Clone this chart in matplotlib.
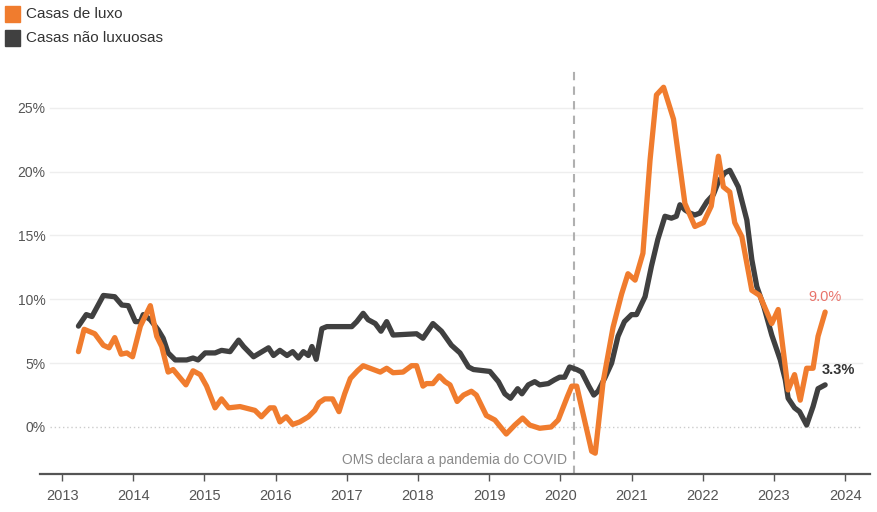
import matplotlib.pyplot as plt
from matplotlib.patches import Rectangle

# Dados (ano decimal, variação anual %)
lux_datas = [2013.23, 2013.31, 2013.46, 2013.58, 2013.66, 2013.74, 2013.83, 2013.91, 2013.99,
             2014.10, 2014.24, 2014.33, 2014.40, 2014.49, 2014.56, 2014.74, 2014.84, 2014.94,
             2015.03, 2015.15, 2015.24, 2015.34, 2015.50, 2015.71, 2015.80, 2015.92, 2015.98,
             2016.06, 2016.15, 2016.24, 2016.34, 2016.46, 2016.55, 2016.61, 2016.69, 2016.80,
             2016.89, 2016.97, 2017.05, 2017.15, 2017.23, 2017.47, 2017.56, 2017.65, 2017.79,
             2017.91, 2017.98, 2018.07, 2018.12, 2018.21, 2018.30, 2018.38, 2018.45, 2018.55,
             2018.64, 2018.75, 2018.82, 2018.96, 2019.08, 2019.24, 2019.36, 2019.47, 2019.57,
             2019.71, 2019.87, 2019.97, 2020.10, 2020.16, 2020.23, 2020.44, 2020.49, 2020.60,
             2020.74, 2020.86, 2020.95, 2021.05, 2021.16, 2021.26, 2021.35, 2021.45, 2021.59,
             2021.75, 2021.89, 2022.01, 2022.12, 2022.22, 2022.29, 2022.38, 2022.45, 2022.55,
             2022.69, 2022.80, 2022.97, 2023.06, 2023.20, 2023.29, 2023.37, 2023.46, 2023.55,
             2023.62, 2023.72]
lux_valores = [5.9, 7.65, 7.3, 6.4, 6.2, 7.0, 5.7, 5.8, 5.5,
               7.9, 9.5, 7.1, 6.3, 4.3, 4.5, 3.3, 4.4, 4.1,
               3.2, 1.5, 2.2, 1.5, 1.6, 1.3, 0.8, 1.5, 1.5,
               0.4, 0.8, 0.2, 0.4, 0.8, 1.3, 1.9, 2.2, 2.2,
               1.2, 2.6, 3.8, 4.4, 4.8, 4.3, 4.6, 4.25, 4.3,
               4.8, 4.8, 3.2, 3.4, 3.4, 4.0, 3.55, 3.3, 2.0,
               2.5, 2.8, 2.5, 0.9, 0.55, -0.55, 0.15, 0.7, 0.15,
               -0.1, 0.0, 0.55, 2.4, 3.2, 3.2, -1.9, -2.05, 3.5,
               7.8, 10.4, 12.0, 11.5, 13.6, 20.9, 26.0, 26.6, 24.1,
               17.5, 15.7, 16.0, 17.3, 21.2, 18.8, 18.4, 16.0, 14.9,
               10.7, 10.3, 8.1, 9.2, 2.9, 4.1, 2.1, 4.6, 4.6,
               7.1, 9.0]

nao_datas = [2013.23, 2013.34, 2013.42, 2013.58, 2013.74, 2013.84, 2013.93, 2014.03, 2014.10,
             2014.14, 2014.24, 2014.35, 2014.42, 2014.49, 2014.59, 2014.75, 2014.84, 2014.91,
             2015.01, 2015.15, 2015.24, 2015.36, 2015.48, 2015.55, 2015.69, 2015.78, 2015.90,
             2015.97, 2016.06, 2016.16, 2016.24, 2016.32, 2016.39, 2016.46, 2016.51, 2016.57,
             2016.65, 2016.72, 2017.07, 2017.14, 2017.23, 2017.30, 2017.40, 2017.48, 2017.56,
             2017.65, 2017.98, 2018.07, 2018.21, 2018.33, 2018.47, 2018.59, 2018.71, 2018.78,
             2019.01, 2019.13, 2019.22, 2019.30, 2019.40, 2019.46, 2019.55, 2019.64, 2019.71,
             2019.83, 2019.92, 2019.99, 2020.06, 2020.13, 2020.23, 2020.30, 2020.40, 2020.47,
             2020.53, 2020.63, 2020.72, 2020.81, 2020.90, 2021.00, 2021.07, 2021.19, 2021.28,
             2021.37, 2021.47, 2021.56, 2021.63, 2021.68, 2021.75, 2021.82, 2021.89, 2021.96,
             2022.06, 2022.15, 2022.22, 2022.31, 2022.38, 2022.50, 2022.62, 2022.69, 2022.76,
             2022.86, 2022.97, 2023.09, 2023.16, 2023.20, 2023.29, 2023.36, 2023.46, 2023.55,
             2023.62, 2023.72]
nao_valores = [7.9, 8.8, 8.65, 10.3, 10.2, 9.55, 9.5, 8.25, 8.25,
               8.8, 8.4, 7.6, 6.95, 5.8, 5.25, 5.25, 5.4, 5.25,
               5.8, 5.8, 6.0, 5.9, 6.8, 6.3, 5.5, 5.8, 6.2,
               5.6, 6.0, 5.6, 5.9, 5.4, 5.9, 5.6, 6.3, 5.3,
               7.7, 7.86, 7.86, 8.25, 8.9, 8.4, 8.1, 7.5, 8.25,
               7.2, 7.3, 6.95, 8.1, 7.5, 6.4, 5.8, 4.7, 4.5,
               4.35, 3.55, 2.6, 2.25, 3.0, 2.6, 3.3, 3.55, 3.3,
               3.4, 3.7, 3.9, 3.9, 4.7, 4.5, 4.3, 3.2, 2.5,
               2.8, 3.9, 5.0, 7.1, 8.25, 8.8, 8.8, 10.2, 12.6,
               14.7, 16.5, 16.35, 16.5, 17.4, 17.0, 16.75, 16.6, 16.75,
               17.65, 18.2, 19.2, 19.9, 20.1, 18.8, 16.2, 13.1, 11.0,
               9.4, 7.2, 5.25, 3.7, 2.25, 1.5, 1.2, 0.15, 1.6,
               3.0, 3.3]

anos = list(range(2013, 2025))
y_ticks = [0, 5, 10, 15, 20, 25]
y_labels = ["0%", "5%", "10%", "15%", "20%", "25%"]
data_covid = 2020.19

laranja = "#F07C2E"
escuro = "#404040"
cinza = "#555555"

plt.rcParams['font.family'] = ['Liberation Sans', 'DejaVu Sans']

fig = plt.figure(figsize=(8.77, 5.12), dpi=100)
ax = fig.add_axes([40 / 877, 1 - 474 / 512, 830 / 877, 411 / 512])

# linhas de grade
for v in y_ticks:
    if v == 0:
        ax.axhline(v, xmin=0.012, xmax=0.99, color="#cccccc", lw=1, ls=(0, (1, 2)), zorder=1)
    else:
        ax.axhline(v, xmin=0.012, xmax=0.99, color="#eeeeee", lw=1, zorder=1)

ax.plot(nao_datas, nao_valores, color=escuro, lw=3.8, solid_joinstyle="round",
        solid_capstyle="round", zorder=3)
ax.plot(lux_datas, lux_valores, color=laranja, lw=3.8, solid_joinstyle="round",
        solid_capstyle="round", zorder=4)

# linha do COVID
ax.axvline(data_covid, ymin=0, ymax=0.99, color="#b0b0b0", lw=1.5, ls=(0, (4, 3)), zorder=2)
ax.text(data_covid - 0.09, -2.6, "OMS declara a pandemia do COVID", ha="right", va="center",
        fontsize=10, color="#8a8a8a")

# rótulos finais
ax.text(lux_datas[-1], lux_valores[-1] + 0.6, f"{lux_valores[-1]:.1f}%", ha="center",
        va="bottom", fontsize=10.5, color="#E8736A")
ax.text(nao_datas[-1] - 0.05, nao_valores[-1] + 0.6, f"{nao_valores[-1]:.1f}%", ha="left",
        va="bottom", fontsize=10.5, color="#333333", fontweight="bold")

ax.set_xlim(2012.69, 2024.35)
ax.set_ylim(-3.68, 28.5)
ax.set_xticks(anos)
ax.set_xticklabels([str(a) for a in anos])
ax.set_yticks(y_ticks)
ax.set_yticklabels(y_labels)
ax.tick_params(axis="y", length=0, pad=-4, labelsize=10, labelcolor=cinza)
ax.tick_params(axis="x", length=5, width=1, color="#555555", pad=6, labelsize=10.5,
               labelcolor=cinza)

for s in ["top", "right", "left"]:
    ax.spines[s].set_visible(False)
ax.spines["bottom"].set_color("#555555")
ax.spines["bottom"].set_linewidth(1.6)

# legenda
fig.patches.append(Rectangle((5 / 877, 1 - 22 / 512), 15 / 877, 16 / 512,
                             transform=fig.transFigure, color=laranja))
fig.patches.append(Rectangle((5 / 877, 1 - 46 / 512), 15 / 877, 16 / 512,
                             transform=fig.transFigure, color=escuro))
fig.text(26 / 877, 1 - 14 / 512, "Casas de luxo", fontsize=11, color="#333333", va="center")
fig.text(26 / 877, 1 - 38 / 512, "Casas não luxuosas", fontsize=11, color="#333333",
         va="center")

fig.savefig("out.png", dpi=100)
